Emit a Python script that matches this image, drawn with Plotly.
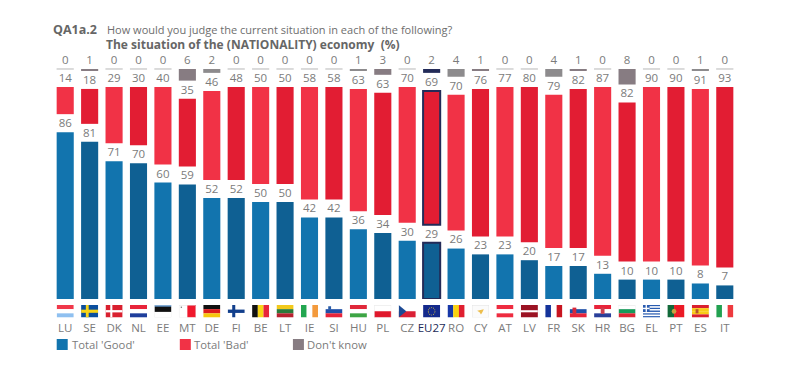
import base64
import plotly.graph_objects as go

countries = ["LU","SE","DK","NL","EE","MT","DE","FI","BE","LT","IE","SI","HU","PL","CZ","EU27","RO","CY","AT","LV","FR","SK","HR","BG","EL","PT","ES","IT"]
good = [86,81,71,70,60,59,52,52,50,50,42,42,36,34,30,29,26,23,23,20,17,17,13,10,10,10,8,7]
bad = [14,18,29,30,40,35,46,48,50,50,58,58,63,63,70,69,70,76,77,80,79,82,87,82,90,90,91,93]
dont_know = [0,1,0,0,0,6,2,0,0,0,0,0,1,3,0,2,4,1,0,0,4,1,0,8,0,0,1,0]

BLUES = ["#1274AE", "#0F6093"]
REDS = ["#F13246", "#E21D33"]
GREYS = ["#8D8B8D", "#877C82"]
NAVY = "#232B58"
TEXT = "#7B7B7B"
ZERO_LINE = "#CFCFCF"
GAP = 9.28
TOP = 100 + 2 * GAP
LABEL_OFFSET = 4.1
W, H = 789, 380
PLOT_TOP, PLOT_BOTTOM = 50, 299
PLOT_LEFT, PLOT_RIGHT = 53.3, 736.7
PX_PER_UNIT = 1.94
AXIS_TOP = (PLOT_BOTTOM - PLOT_TOP) / PX_PER_UNIT
FONT = "Open Sans"
EU = countries.index("EU27")


def alt(pair):
    return [pair[i % 2] for i in range(len(countries))]


def h(*cols):
    n = len(cols)
    return "".join(f'<rect x="0" y="{i*12/n}" width="18" height="{12/n+.05}" fill="{c}"/>' for i, c in enumerate(cols))


def v(*cols):
    n = len(cols)
    return "".join(f'<rect x="{i*18/n}" y="0" width="{18/n+.05}" height="12" fill="{c}"/>' for i, c in enumerate(cols))


def r(x, y, w, hh, c):
    return f'<rect x="{x}" y="{y}" width="{w}" height="{hh}" fill="{c}"/>'


EDGE = '<rect x=".25" y=".25" width="17.5" height="11.5" fill="none" stroke="#E2E2E2" stroke-width=".5"/>'

flags = {
    "LU": h("#F0384A", "#FFFFFF", "#8FC0F0"),
    "SE": r(0,0,18,12,"#0B4F9E") + r(5,0,3,12,"#F7D417") + r(0,4.5,18,3,"#F7D417"),
    "DK": r(0,0,18,12,"#D9202F") + r(5,0,2.2,12,"#FFFFFF") + r(0,4.9,18,2.2,"#FFFFFF"),
    "NL": h("#E8243A", "#FFFFFF", "#1F3F9C"),
    "EE": r(0,0,18,12,"#FFFFFF") + r(0,0,18,1.6,"#1C6FC0") + r(0,1.6,18,5,"#111111") + EDGE,
    "MT": v("#FFFFFF", "#F0182C") + r(2,1.5,1.4,1.4,"#888888") + EDGE,
    "DE": h("#111111", "#DD1C1C", "#F6C70E"),
    "FI": r(0,0,18,12,"#FFFFFF") + r(4.8,0,3.2,12,"#123F8C") + r(0,4.4,18,3.2,"#123F8C"),
    "BE": v("#111111", "#F7D517", "#E8253A"),
    "LT": h("#F2C91C", "#2B7A3B", "#B82230"),
    "IE": v("#22A650", "#FFFFFF", "#F39A3C"),
    "SI": h("#FFFFFF", "#1F4FA8", "#E8243A") + r(3,1.2,3,3.4,"#2A5CA8"),
    "HU": h("#E0283A", "#FFFFFF", "#3DA545"),
    "PL": h("#FFFFFF", "#E0182C") + EDGE,
    "CZ": h("#FFFFFF", "#DA2035") + '<path d="M0 0L8 6L0 12Z" fill="#1C4A94"/>',
    "EU27": r(0,0,18,12,"#142A8C") + "".join(
        f'<circle cx="{x}" cy="{y}" r=".5" fill="#C9B84A"/>' for x, y in
        [(9,2.5),(11,3),(12.3,4.5),(12.5,6),(12.3,7.5),(11,9),(9,9.5),(7,9),(5.7,7.5),(5.5,6),(5.7,4.5),(7,3)]),
    "RO": v("#1738A8", "#FAD20F", "#E01F30"),
    "CY": r(0,0,18,12,"#FBFBFB") + '<path d="M5.5 5.5L12.5 4L11 7L9.5 9L8 7Z" fill="#EDBE4C"/>' + EDGE,
    "AT": h("#EE2C40", "#FFFFFF", "#EE2C40"),
    "LV": r(0,0,18,12,"#9B1223") + r(0,5,18,2,"#FFFFFF"),
    "FR": v("#14339A", "#FFFFFF", "#C8141F"),
    "SK": h("#FFFFFF", "#1E50A8", "#E8243A") + r(3,2.5,4,6,"#D8283A"),
    "HR": h("#E8243A", "#FFFFFF", "#2A3F9A") + r(7,2.5,4,6,"#CC4050"),
    "BG": h("#FFFFFF", "#179A5A", "#DF2433") + EDGE,
    "EL": "".join(r(0, i*12/9, 18, 12/9+.03, "#2A5CB0" if i % 2 == 0 else "#FFFFFF") for i in range(9)) + r(0,0,7,6.6,"#2A5CB0") + r(2.8,0,1.4,6.6,"#FFFFFF") + r(0,2.6,7,1.4,"#FFFFFF"),
    "PT": r(0,0,7,12,"#12693A") + r(7,0,11,12,"#EB1A26") + '<circle cx="7" cy="6" r="2.4" fill="#C9A040"/>',
    "ES": h("#D9202F", "#F8CB16", "#F8CB16", "#D9202F") + r(4,4,3,4,"#B5562A"),
    "IT": v("#22A150", "#FFFFFF", "#EE3A3E"),
}


def flag_uri(code):
    svg = f'<svg xmlns="http://www.w3.org/2000/svg" viewBox="0 0 18 12" preserveAspectRatio="none">{flags[code]}</svg>'
    return "data:image/svg+xml;base64," + base64.b64encode(svg.encode()).decode()


def px(x):
    return (x - PLOT_LEFT) / (PLOT_RIGHT - PLOT_LEFT)


def py(y):
    return (PLOT_BOTTOM - y) / (PLOT_BOTTOM - PLOT_TOP)


eu_outline = [2 if i == EU else 0 for i in range(len(countries))]
red_base = [g + GAP for g in good]
grey_base = [TOP - d for d in dont_know]
grey_colors = alt(GREYS)
grey_colors[EU] = NAVY

fig = go.Figure()
fig.add_bar(name="Total 'Good'", x=countries, y=good,
            marker=dict(color=alt(BLUES), line=dict(color=NAVY, width=eu_outline)))
fig.add_bar(name="Total 'Bad'", x=countries, y=bad, base=red_base,
            marker=dict(color=alt(REDS), line=dict(color=NAVY, width=eu_outline)))
fig.add_bar(name="Don't know", x=countries, y=dont_know, base=grey_base,
            marker=dict(color=grey_colors, line=dict(color=ZERO_LINE, width=[1 if d == 0 else 0 for d in dont_know])))
fig.update_traces(width=0.7, showlegend=False, hovertemplate="%{x}: %{y}<extra>%{fullData.name}</extra>")

label_sets = [
    (good, good),
    (bad, [b + v_ for b, v_ in zip(red_base, bad)]),
    (dont_know, [TOP] * len(countries)),
]
for values, tops in label_sets:
    fig.add_scatter(x=countries, y=[t + LABEL_OFFSET for t in tops], mode="text", text=values,
                    textposition="middle center", cliponaxis=False, showlegend=False, hoverinfo="skip",
                    textfont=dict(family=FONT, size=11.5, color=TEXT))

ticktext = [f'<span style="color:{NAVY}">{c}</span>' if c == "EU27" else c for c in countries]

images = [
    dict(source=flag_uri(c), xref="x", yref="paper", x=c, y=py(305), sizex=0.7, sizey=12.5 / (PLOT_BOTTOM - PLOT_TOP),
         xanchor="center", yanchor="top", sizing="stretch", layer="above")
    for c in countries
]


def note(x, y, text, size=12, color=TEXT):
    return dict(xref="paper", yref="paper", x=px(x), y=py(y), text=text, showarrow=False, xanchor="left", yanchor="middle",
                font=dict(family=FONT, size=size, color=color), align="left")


annotations = [
    note(51, 29, "<b>QA1a.2</b>", 12.5, "#666666"),
    note(105, 29, "How would you judge the current situation in each of the following?", 11, "#6E6E6E"),
    note(104.5, 44.5, "<b>The situation of the (NATIONALITY) economy  (%)</b>", 12, "#666666"),
    note(70, 344, "Total 'Good'", 11.3),
    note(192, 344, "Total 'Bad'", 11.3),
    note(305, 344, "Don't know", 11.3),
]
legend_boxes = [(57, BLUES[0]), (180, REDS[0]), (293, GREYS[1])]
shapes = [
    dict(type="rect", xref="paper", yref="paper", x0=px(x), x1=px(x + 11), y0=py(339), y1=py(350),
         fillcolor=c, line=dict(width=0))
    for x, c in legend_boxes
]

fig.update_layout(
    width=W, height=H, barmode="overlay", bargap=0.3,
    margin=dict(l=PLOT_LEFT, r=W - PLOT_RIGHT, t=PLOT_TOP, b=H - PLOT_BOTTOM, pad=0),
    paper_bgcolor="white", plot_bgcolor="white",
    font=dict(family=FONT, size=12, color=TEXT),
    images=images, annotations=annotations, shapes=shapes, showlegend=False,
    xaxis=dict(type="category", categoryorder="array", categoryarray=countries, tickmode="array", tickvals=countries,
               range=[-0.5, len(countries) - 0.5], ticktext=ticktext, ticks="outside", ticklen=18,
               tickcolor="rgba(0,0,0,0)", showgrid=False, zeroline=False,
               showline=False, tickfont=dict(family=FONT, size=11.5, color=TEXT), tickangle=0),
    yaxis=dict(range=[0, AXIS_TOP], visible=False, fixedrange=True),
)

fig.write_html("out.html", config=dict(displayModeBar=False), post_script="document.body.style.margin='0';")
